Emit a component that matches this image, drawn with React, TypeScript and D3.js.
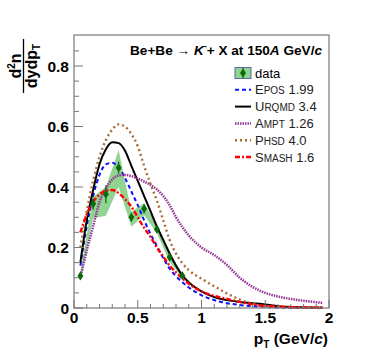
import React from "react";
import * as d3 from "d3";

const W = 374, H = 359;
const M = { left: 74, right: 329, top: 35, bottom: 308 };

// data
const dataX = [0.05, 0.15, 0.25, 0.35, 0.45, 0.55, 0.65, 0.75, 0.85];
const dataY = [0.106, 0.345, 0.376, 0.464, 0.3, 0.328, 0.26, 0.168, 0.107];
const statErr = [0.012, 0.02, 0.03, 0.02, 0.015, 0.015, 0.012, 0.01, 0.008];
const sysHi = [0.12, 0.368, 0.4, 0.522, 0.318, 0.347, 0.274, 0.18, 0.115];
const sysLo = [0.093, 0.297, 0.305, 0.4, 0.269, 0.307, 0.248, 0.152, 0.1];

// model grid
const modelX = [0.05, 0.1, 0.15, 0.2, 0.25, 0.3, 0.35, 0.4, 0.45, 0.5, 0.55, 0.6, 0.65, 0.7, 0.75, 0.8, 0.85, 0.9, 1.0, 1.1, 1.2, 1.3, 1.4, 1.5, 1.6, 1.7, 1.8, 1.95];
const epos = [0.14, 0.27, 0.37, 0.44, 0.475, 0.48, 0.465, 0.43, 0.385, 0.34, 0.29, 0.245, 0.205, 0.165, 0.13, 0.105, 0.085, 0.068, 0.042, 0.026, 0.016, 0.01, 0.006, 0.004, 0.002, 0.001, 0.001, 0.0];
const urqmd = [0.15, 0.29, 0.39, 0.475, 0.525, 0.548, 0.545, 0.52, 0.47, 0.42, 0.37, 0.32, 0.27, 0.225, 0.18, 0.14, 0.108, 0.085, 0.055, 0.036, 0.026, 0.02, 0.016, 0.012, 0.006, 0.003, 0.002, 0.001];
const ampt = [0.1, 0.19, 0.27, 0.35, 0.395, 0.425, 0.438, 0.44, 0.436, 0.428, 0.418, 0.407, 0.392, 0.37, 0.34, 0.3, 0.268, 0.24, 0.2, 0.175, 0.142, 0.1, 0.07, 0.05, 0.038, 0.03, 0.024, 0.017];
const phsd = [0.2, 0.32, 0.42, 0.5, 0.555, 0.59, 0.607, 0.6, 0.575, 0.535, 0.47, 0.41, 0.355, 0.29, 0.225, 0.18, 0.148, 0.125, 0.097, 0.072, 0.048, 0.028, 0.014, 0.006, 0.003, 0.002, 0.001, 0.0];
const smash = [0.25, 0.31, 0.35, 0.375, 0.388, 0.39, 0.38, 0.36, 0.335, 0.3, 0.265, 0.235, 0.2, 0.17, 0.14, 0.118, 0.098, 0.08, 0.055, 0.04, 0.03, 0.02, 0.012, 0.007, 0.005, 0.003, 0.002, 0.002];

const xTicksMajor = [0, 0.5, 1, 1.5, 2];
const xTickLabels = ["0", "0.5", "1", "1.5", "2"];
const yTicksMajor = [0, 0.2, 0.4, 0.6, 0.8];
const yTickLabels = ["0", "0.2", "0.4", "0.6", "0.8"];

const models = [
  { name: "EPOS", first: "E", rest: "POS", ver: " 1.99", values: epos, color: "#1010ff", dash: "4,3", width: 2 },
  { name: "UrQMD", first: "U", rest: "RQMD", ver: " 3.4", values: urqmd, color: "#000000", dash: "", width: 2 },
  { name: "AMPT", first: "A", rest: "MPT", ver: " 1.26", values: ampt, color: "#963596", dash: "1.5,1", width: 2.5 },
  { name: "PHSD", first: "P", rest: "HSD", ver: " 4.0", values: phsd, color: "#a86a35", dash: "2,3", width: 2.4 },
  { name: "SMASH", first: "S", rest: "MASH", ver: " 1.6", values: smash, color: "#ff0000", dash: "5,2,2,2", width: 2.4 },
];

const FONT = "'Liberation Sans', Arial, Helvetica, sans-serif";

export default function App() {
  const x = d3.scaleLinear().domain([0, 2]).range([M.left, M.right]);
  const y = d3.scaleLinear().domain([0, 0.9025]).range([M.bottom, M.top]);

  const line = d3.line<number>()
    .x((_, i) => x(modelX[i]))
    .y((d) => y(d))
    .curve(d3.curveMonotoneX);

  const band = d3.area<number>()
    .x((_, i) => x(dataX[i]))
    .y0((_, i) => y(sysLo[i]))
    .y1((_, i) => y(sysHi[i]));

  const xMinor = d3.range(0, 2.0001, 0.1);
  const yMinor = d3.range(0, 0.9, 0.05);

  const diamond = (cx: number, cy: number) =>
    `M${cx},${cy - 4.5} L${cx + 3},${cy} L${cx},${cy + 4.5} L${cx - 3},${cy} Z`;

  const legX = 235, legY0 = 73, legDy = 16.8;

  return (
    <svg width={W} height={H} style={{ display: "block", position: "absolute", left: 0, top: 0 }} fontFamily={FONT}>
      <rect width={W} height={H} fill="#fff" />
      <path d={band(dataY) || ""} fill="#76c976" fillOpacity={0.8} stroke="none" />
      {models.map((m) => (
        <path key={m.name} d={line(m.values) || ""} fill="none" stroke={m.color} strokeWidth={m.width} strokeDasharray={m.dash || undefined} />
      ))}
      {dataX.map((dx, i) => (
        <g key={i}>
          <line x1={x(dx)} x2={x(dx)} y1={y(dataY[i] - statErr[i])} y2={y(dataY[i] + statErr[i])} stroke="#0b6b0b" strokeWidth={1.2} />
          <path d={diamond(x(dx), y(dataY[i]))} fill="#0b6b0b" />
        </g>
      ))}
      <rect x={M.left} y={M.top} width={M.right - M.left} height={M.bottom - M.top} fill="none" stroke="#777" strokeWidth={1.2} />
      {xMinor.map((t, i) => {
        const major = Math.abs(t * 2 - Math.round(t * 2)) < 1e-6;
        return <line key={i} x1={x(t)} x2={x(t)} y1={M.bottom} y2={M.bottom - (major ? 8 : 4)} stroke="#777" strokeWidth={1} />;
      })}
      {yMinor.map((t, i) => {
        const major = Math.abs(t * 5 - Math.round(t * 5)) < 1e-6;
        return <line key={i} x1={M.left} x2={M.left + (major ? 9 : 5)} y1={y(t)} y2={y(t)} stroke="#777" strokeWidth={1} />;
      })}
      {xTicksMajor.map((t, i) => (
        <text key={i} x={x(t)} y={323} textAnchor="middle" fontSize={15.5} fontWeight="bold">{xTickLabels[i]}</text>
      ))}
      {yTicksMajor.map((t, i) => (
        <text key={i} x={69} y={y(t) + 5.5} textAnchor="end" fontSize={15.5} fontWeight="bold">{yTickLabels[i]}</text>
      ))}
      <text x={328} y={344} textAnchor="end" fontSize={15.5} fontWeight="bold">
        p<tspan fontSize={10} dy={4}>T</tspan><tspan dy={-4}> (GeV/</tspan><tspan fontStyle="italic">c</tspan>)
      </text>
      <g transform="translate(23.5,66) rotate(-90)">
        <text x={0} y={-3} textAnchor="middle" fontSize={16} fontWeight="bold">
          d<tspan fontSize={10} dy={-6}>2</tspan><tspan dy={6}>n</tspan>
        </text>
        <line x1={-27} x2={27} y1={0} y2={0} stroke="#000" strokeWidth={1.3} />
        <text x={0} y={13} textAnchor="middle" fontSize={16} fontWeight="bold">
          dydp<tspan fontSize={10} dy={3}>T</tspan>
        </text>
      </g>
      <text x={322} y={55} textAnchor="end" fontSize={13.6} fontWeight="bold">
        Be+Be <tspan fontWeight="normal">→</tspan> <tspan fontStyle="italic">K</tspan><tspan fontSize={9} dy={-6}>-</tspan><tspan dy={6}>+ X at 150</tspan><tspan fontStyle="italic">A</tspan> GeV/<tspan fontStyle="italic">c</tspan>
      </text>
      <g>
        <rect x={legX} y={legY0 - 5.5} width={16} height={11} fill="#8fd48f" stroke="#5a6aa8" strokeWidth={1} />
        <line x1={legX + 8} x2={legX + 8} y1={legY0 - 5} y2={legY0 + 5} stroke="#0b6b0b" strokeWidth={1.2} />
        <path d={diamond(legX + 8, legY0)} fill="#0b6b0b" />
        <text x={255} y={legY0 + 4.5} fontSize={13}>data</text>
        {models.map((m, i) => {
          const yy = legY0 + legDy * (i + 1);
          return (
            <g key={m.name}>
              <line x1={legX} x2={legX + 16} y1={yy} y2={yy} stroke={m.color} strokeWidth={m.width} strokeDasharray={m.dash || undefined} />
              <text x={255} y={yy + 4.5} fontSize={13} fill="#222">
                {m.first}<tspan fontSize={10}>{m.rest}</tspan>{m.ver}
              </text>
            </g>
          );
        })}
      </g>
    </svg>
  );
}
